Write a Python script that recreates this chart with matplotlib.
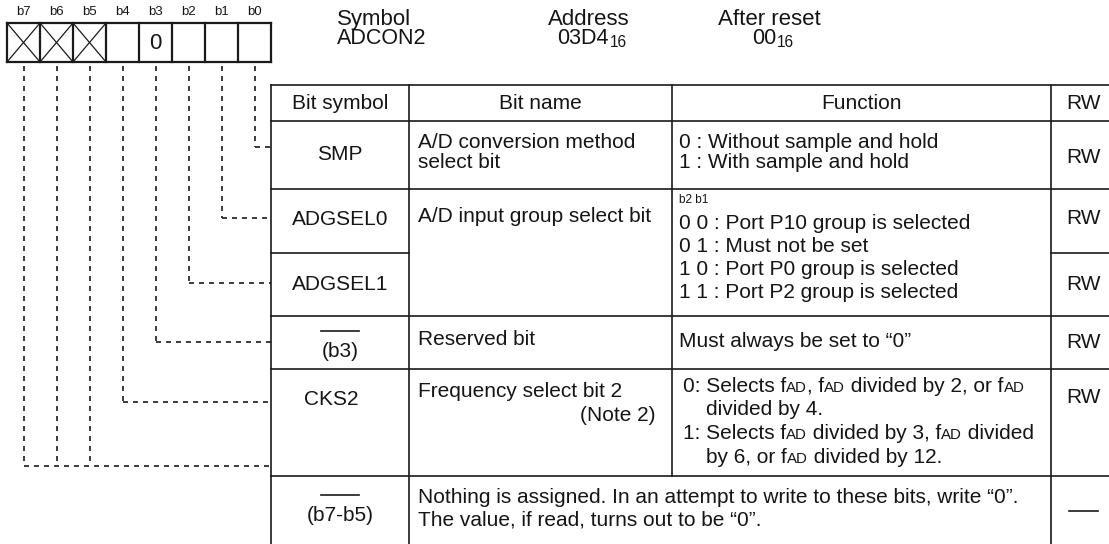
import matplotlib
matplotlib.use("Agg")
import matplotlib.pyplot as plt

plt.rcParams['font.family'] = ['Liberation Sans', 'DejaVu Sans']

W, H = 1109, 544

# register header
bit_labels = ["b7", "b6", "b5", "b4", "b3", "b2", "b1", "b0"]
bit_cells = ["x", "x", "x", "", "0", "", "", ""]   # x = not implemented
reg_info = [("Symbol", [("ADCON2", False)]),
            ("Address", [("03D4", False), ("16", True)]),
            ("After reset", [("00", False), ("16", True)])]

# table contents
col_heads = ["Bit symbol", "Bit name", "Function", "RW"]
row_symbols = ["SMP", "ADGSEL0", "ADGSEL1", "(b3)", "CKS2", "(b7-b5)"]
row_names = [["A/D conversion method", "select bit"],
             ["A/D input group select bit"],
             [],
             ["Reserved bit"],
             ["Frequency select bit 2"],
             []]
row_rw = ["RW", "RW", "RW", "RW", "RW", "—"]
smp_func = ["0 : Without sample and hold", "1 : With sample and hold"]
adgsel_func = ["0 0 : Port P10 group is selected", "0 1 : Must not be set",
               "1 0 : Port P0 group is selected", "1 1 : Port P2 group is selected"]
b3_func = "Must always be set to “0”"
cks2_func = [[("0: Selects f", 0), ("AD", 1), (", f", 0), ("AD", 1),
              (" divided by 2, or f", 0), ("AD", 1)],
             [("divided by 4.", 0)],
             [("1: Selects f", 0), ("AD", 1), (" divided by 3, f", 0), ("AD", 1),
              (" divided", 0)],
             [("by 6, or f", 0), ("AD", 1), (" divided by 12.", 0)]]
empty_text = ["Nothing is assigned. In an attempt to write to these bits, write “0”.",
              "The value, if read, turns out to be “0”."]

# layout (pixels)
FS = 15
HFS = 16
BX0, CELL, BY0, BY1 = 7, 33, 23, 62
XC = [271, 409, 672, 1051, 1140]
ROW_Y = [85, 121, 189, 253, 316, 369, 476]
leader_y = [466, 466, 466, 402, 342, 283, 218, 147]
LC = '#1a1a1a'
TC = '#151515'

fig = plt.figure(figsize=(W / 100, H / 100), dpi=100)
ax = fig.add_axes([0, 0, 1, 1])
ax.set_xlim(0, W)
ax.set_ylim(H, 0)
ax.axis('off')
rend = fig.canvas.get_renderer()


def rich(x, y, parts, size=FS):
    # draw runs of normal / small text one after another on one baseline
    cx = x
    for s, small in parts:
        fs = size * 0.72 if small else size
        t = ax.text(cx, y, s, fontsize=fs, va='baseline', ha='left', color=TC)
        cx += t.get_window_extent(rend).width


def sub_text(x, y, parts, size=FS):
    cx = x
    for s, sub in parts:
        fs = size * 0.72 if sub else size
        t = ax.text(cx, y + (3 if sub else 0), s, fontsize=fs, va='baseline',
                    ha='left', color=TC)
        cx += t.get_window_extent(rend).width + (1 if not sub else 0)


# bit register box
for i, lab in enumerate(bit_labels):
    x0 = BX0 + CELL * i
    ax.text(x0 + CELL / 2, 12, lab, fontsize=9.5, ha='center', va='center', color=TC)
    if bit_cells[i] == "x":
        ax.plot([x0, x0 + CELL], [BY0, BY1], color=LC, lw=0.9)
        ax.plot([x0, x0 + CELL], [BY1, BY0], color=LC, lw=0.9)
    elif bit_cells[i]:
        ax.text(x0 + CELL / 2, (BY0 + BY1) / 2 + 1, bit_cells[i], fontsize=16,
                ha='center', va='center', color=TC)
for i in range(9):
    ax.plot([BX0 + CELL * i] * 2, [BY0, BY1], color=LC, lw=1.6)
ax.plot([BX0, BX0 + 8 * CELL], [BY0, BY0], color=LC, lw=1.6)
ax.plot([BX0, BX0 + 8 * CELL], [BY1, BY1], color=LC, lw=1.6)

# dashed leaders
dash = dict(color=LC, lw=1.2, dashes=(3, 3))
done = set()
for i in range(8):
    x = BX0 + CELL * (i + 0.5)
    ty = leader_y[i]
    ax.plot([x, x], [66, ty], **dash)
    if ty not in done:
        ax.plot([x, XC[0]], [ty, ty], **dash)
        done.add(ty)

# register info header
sub_text(337, 25, [(reg_info[0][0], False)], size=HFS)
sub_text(337, 44, reg_info[0][1], size=HFS - 0.5)
sub_text(548, 25, [(reg_info[1][0], False)], size=HFS)
sub_text(557, 44, reg_info[1][1], size=HFS - 0.5)
sub_text(718, 25, [(reg_info[2][0], False)], size=HFS)
sub_text(752, 44, reg_info[2][1], size=HFS - 0.5)

# table grid
tl = dict(color=LC, lw=1.2)
for y in ROW_Y:
    if y == 253:
        ax.plot([XC[0], XC[1]], [y, y], **tl)
        ax.plot([XC[3], XC[4]], [y, y], **tl)
    else:
        ax.plot([XC[0], XC[4]], [y, y], **tl)
for j, x in enumerate(XC[:4]):
    ax.plot([x, x], [ROW_Y[0], 476 if j == 2 else H], **tl)

# header row
hy = 109
for j, h in enumerate(col_heads):
    cx = (XC[j] + XC[j + 1]) / 2 if j < 3 else 1083
    ax.text(cx, hy, h, fontsize=FS, ha='center', va='baseline', color=TC)

# bit symbols
sym_y = [160, 225, 290, 357, 405, 521]
col1c = (XC[0] + XC[1]) / 2
for k, s in enumerate(row_symbols):
    xx = 331 if s == "CKS2" else col1c
    ax.text(xx, sym_y[k], s, fontsize=FS, ha='center', va='baseline', color=TC)
    if s.startswith("("):
        ax.plot([col1c - 19, col1c + 19], [sym_y[k] - 26] * 2, color=LC, lw=1.2)

# bit names
name_y = [[148, 168], [222], [], [345], [397], []]
for k, lines in enumerate(row_names):
    for ln, yy in zip(lines, name_y[k]):
        ax.text(418, yy, ln, fontsize=FS, ha='left', va='baseline', color=TC)
ax.text(655, 421, "(Note 2)", fontsize=FS, ha='right', va='baseline', color=TC)

# functions
FX = 679
for ln, yy in zip(smp_func, [148, 168]):
    ax.text(FX, yy, ln, fontsize=FS, ha='left', va='baseline', color=TC)
ax.text(FX, 203, "b2 b1", fontsize=8.5, ha='left', va='baseline', color=TC)
for ln, yy in zip(adgsel_func, [229, 252, 275, 298]):
    ax.text(FX, yy, ln, fontsize=FS, ha='left', va='baseline', color=TC)
ax.text(FX, 347, b3_func, fontsize=FS, ha='left', va='baseline', color=TC)
for parts, xx, yy in zip(cks2_func, [683, 706, 683, 706], [392, 415, 439, 463]):
    rich(xx, yy, parts)
for ln, yy in zip(empty_text, [503, 526]):
    ax.text(418, yy, ln, fontsize=FS, ha='left', va='baseline', color=TC)

# RW column
rw_y = [163, 224, 290, 348, 403, 516]
for r, yy in zip(row_rw, rw_y):
    if r == "—":
        ax.plot([1069, 1098], [yy - 5, yy - 5], color=LC, lw=1.2)
    else:
        ax.text(1083, yy, r, fontsize=FS, ha='center', va='baseline', color=TC)

fig.savefig("out.png", dpi=100)
